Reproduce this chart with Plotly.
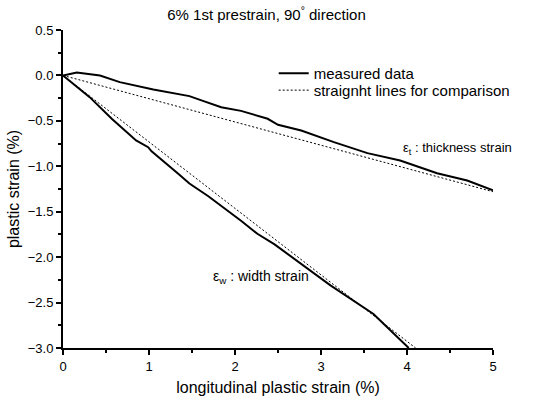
import plotly.graph_objects as go

# Measured thickness strain (longitudinal %, plastic strain %)
thick_x = [0.0, 0.16, 0.43, 0.66, 1.05, 1.47, 1.61, 1.84, 2.07, 2.38, 2.50, 2.77, 3.15, 3.46, 3.54, 3.92, 4.35, 4.70, 5.0]
thick_y = [0.0, 0.033, 0.0, -0.074, -0.154, -0.228, -0.275, -0.35, -0.39, -0.477, -0.543, -0.606, -0.734, -0.826, -0.855, -0.936, -1.076, -1.156, -1.265]

# Measured width strain
width_x = [0.0, 0.31, 0.57, 0.85, 0.99, 1.03, 1.34, 1.47, 1.69, 1.92, 2.07, 2.26, 2.46, 3.11, 3.61, 4.02]
width_y = [0.0, -0.239, -0.48, -0.716, -0.79, -0.835, -1.083, -1.19, -1.33, -1.49, -1.60, -1.743, -1.86, -2.31, -2.625, -3.0]

# Straight comparison lines
thick_line_x = [0.0, 5.0]
thick_line_y = [0.0, -1.28]
width_line_x = [0.0, 4.1]
width_line_y = [0.0, -3.0]

font_family = "Liberation Sans, Arial, sans-serif"

fig = go.Figure()
fig.add_trace(go.Scatter(x=thick_x, y=thick_y, mode="lines", name="measured data",
                         line=dict(color="black", width=2), legend="legend"))
fig.add_trace(go.Scatter(x=width_x, y=width_y, mode="lines", name="measured data",
                         line=dict(color="black", width=2), showlegend=False))
fig.add_trace(go.Scatter(x=thick_line_x, y=thick_line_y, mode="lines",
                         name="straignht lines for comparison",
                         line=dict(color="black", width=1, dash="2px,2px"), legend="legend2"))
fig.add_trace(go.Scatter(x=width_line_x, y=width_line_y, mode="lines",
                         name="straignht lines for comparison",
                         line=dict(color="black", width=1, dash="2px,2px"), showlegend=False))

fig.add_annotation(x=3.93, y=-0.80, xref="x", yref="y", text="ε<sub>t</sub> : thickness strain",
                   showarrow=False, xanchor="left", yanchor="middle",
                   font=dict(size=13, color="black", family=font_family))
fig.add_annotation(x=1.72, y=-2.22, xref="x", yref="y", text="ε<sub>w</sub> : width strain",
                   showarrow=False, xanchor="left", yanchor="middle",
                   font=dict(size=14, color="black", family=font_family))

legend_common = dict(xanchor="left", yanchor="top", bgcolor="rgba(0,0,0,0)",
                     font=dict(size=15), tracegroupgap=0, itemwidth=30)

fig.update_layout(
    width=533, height=402,
    margin=dict(l=63, r=40, t=30, b=54),
    paper_bgcolor="white", plot_bgcolor="white",
    font=dict(family=font_family, size=13, color="black"),
    title=dict(text="6% 1st prestrain, 90<sup>°</sup> direction", x=0.5, xanchor="center",
               y=0.963, yanchor="middle", font=dict(size=15)),
    showlegend=True,
    legend=dict(x=0.49, y=0.915, **legend_common),
    legend2=dict(x=0.49, y=0.862, **legend_common),
    xaxis=dict(range=[0, 5], dtick=1, showline=True, linecolor="black", linewidth=2,
               ticks="outside", ticklen=5, tickwidth=1.5, tickcolor="black",
               showgrid=False, zeroline=False, mirror=False, automargin=False,
               minor=dict(dtick=0.5, ticks="outside", ticklen=3, tickcolor="black", showgrid=False),
               title=dict(text="longitudinal plastic strain (%)", font=dict(size=16), standoff=9),
               tickfont=dict(size=13)),
    yaxis=dict(range=[-3.0, 0.5], dtick=0.5, tickformat=".1f", showline=True, linecolor="black",
               linewidth=2, ticks="outside", ticklen=5, tickwidth=1.5, tickcolor="black",
               showgrid=False, zeroline=False, mirror=False, automargin=False,
               minor=dict(dtick=0.25, ticks="outside", ticklen=3, tickcolor="black", showgrid=False),
               title=dict(text="plastic strain (%)", font=dict(size=16), standoff=4),
               tickfont=dict(size=13)),
)

fig.write_html("out.html")
